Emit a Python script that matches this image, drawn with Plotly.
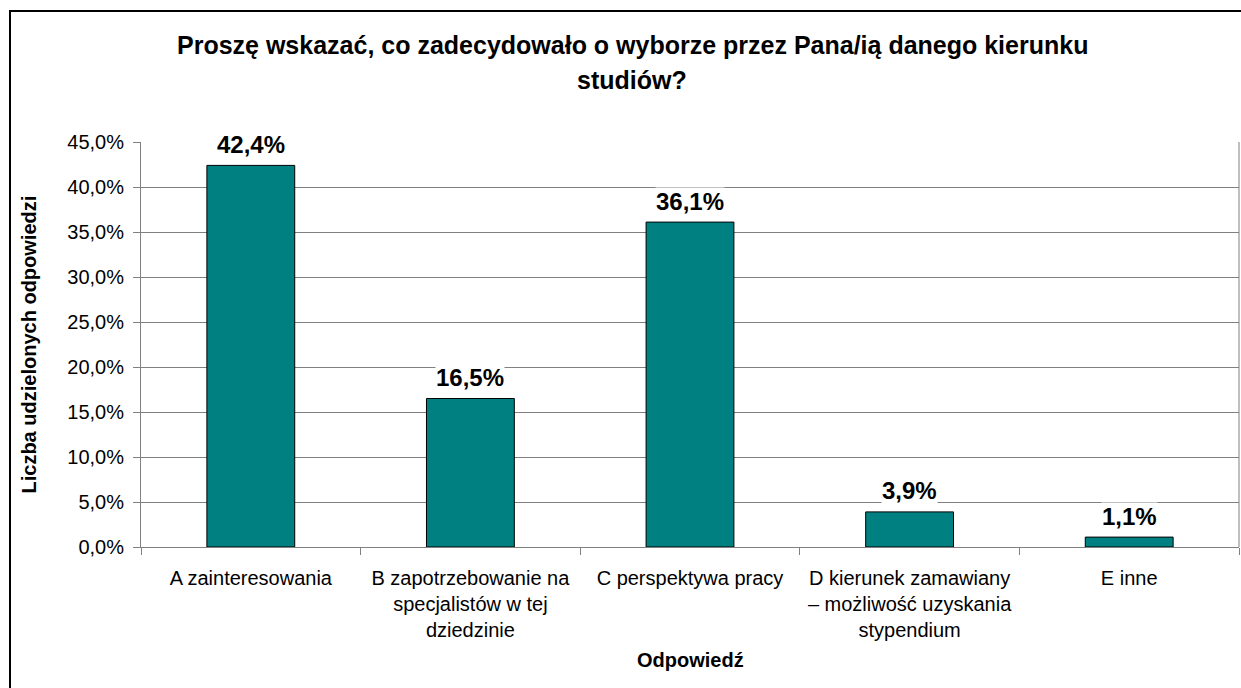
import plotly.graph_objects as go

categories = [
    "A zainteresowania",
    "B zapotrzebowanie na<br>specjalistów w tej<br>dziedzinie",
    "C perspektywa pracy",
    "D kierunek zamawiany<br>– możliwość uzyskania<br>stypendium",
    "E inne",
]
values = [42.4, 16.5, 36.1, 3.9, 1.1]
value_labels = ["42,4%", "16,5%", "36,1%", "3,9%", "1,1%"]
y_ticks = [0, 5, 10, 15, 20, 25, 30, 35, 40, 45]
y_tick_labels = ["0,0%", "5,0%", "10,0%", "15,0%", "20,0%", "25,0%",
                 "30,0%", "35,0%", "40,0%", "45,0%"]

title_lines = ["Proszę wskazać, co zadecydowało o wyborze przez Pana/ią danego kierunku",
               "studiów?"]
y_title = "Liczba udzielonych odpowiedzi"
x_title = "Odpowiedź"

FONT = "Liberation Sans, Arial, sans-serif"
W, H = 1241, 688
L, R, T, B = 141, 2, 142, 141
pw = W - L - R
ph = H - T - B

def px_x(px):
    return (px - L) / pw

def px_y(py):
    return (H - B - py) / ph

fig = go.Figure()
fig.add_trace(go.Bar(
    x=categories, y=values, width=0.4,
    marker=dict(color="#008080", line=dict(color="#000000", width=1)),
    hoverinfo="skip",
))

for c, v, t in zip(categories, values, value_labels):
    fig.add_annotation(x=c, y=v, text="<b>" + t + "</b>", showarrow=False,
                       yanchor="middle", yshift=21, bgcolor="white", borderpad=0,
                       font=dict(family=FONT, size=24, color="#000000"))

for line, ypx in zip(title_lines, [45, 80]):
    fig.add_annotation(xref="paper", yref="paper", x=px_x(632), y=px_y(ypx),
                       text="<b>" + line + "</b>", showarrow=False,
                       xanchor="center", yanchor="middle",
                       font=dict(family=FONT, size=25, color="#000000"))
fig.add_annotation(xref="paper", yref="paper", x=px_x(28), y=0.5,
                   text="<b>" + y_title + "</b>", showarrow=False, textangle=-90,
                   xanchor="center", yanchor="middle",
                   font=dict(family=FONT, size=20, color="#000000"))
fig.add_annotation(xref="paper", yref="paper", x=0.5, y=px_y(660),
                   text="<b>" + x_title + "</b>", showarrow=False,
                   xanchor="center", yanchor="middle",
                   font=dict(family=FONT, size=20, color="#000000"))

# outer chart border
fig.add_shape(type="rect", xref="paper", yref="paper",
              x0=px_x(10), x1=px_x(1260), y0=px_y(710), y1=px_y(11),
              line=dict(color="#000000", width=2), fillcolor="rgba(0,0,0,0)", layer="above")
# plot area right border
fig.add_shape(type="line", xref="paper", yref="paper", x0=1, x1=1, y0=0, y1=1,
              line=dict(color="#808080", width=1))

fig.update_layout(
    width=W, height=H,
    margin=dict(l=L, r=R, t=T, b=B),
    paper_bgcolor="white", plot_bgcolor="white",
    showlegend=False,
    bargap=0.6,
    font=dict(family=FONT, size=20, color="#000000"),
)
fig.update_xaxes(
    type="category", tickson="boundaries", ticks="outside", ticklen=7,
    tickcolor="#808080", showline=True, linecolor="#808080", linewidth=1,
    showgrid=False, tickfont=dict(family=FONT, size=20, color="#000000"),
    ticklabelstandoff=13,
)
fig.update_yaxes(
    range=[0, 45], tickvals=y_ticks, ticktext=y_tick_labels,
    ticks="outside", ticklen=7, tickcolor="#808080",
    showline=True, linecolor="#808080", linewidth=1,
    showgrid=True, gridcolor="#808080", gridwidth=1, zeroline=False,
    tickfont=dict(family=FONT, size=20, color="#000000"),
    ticklabelstandoff=5,
)

fig.write_html("out.html", config={"displayModeBar": False},
               post_script="document.body.style.margin='0px';")
